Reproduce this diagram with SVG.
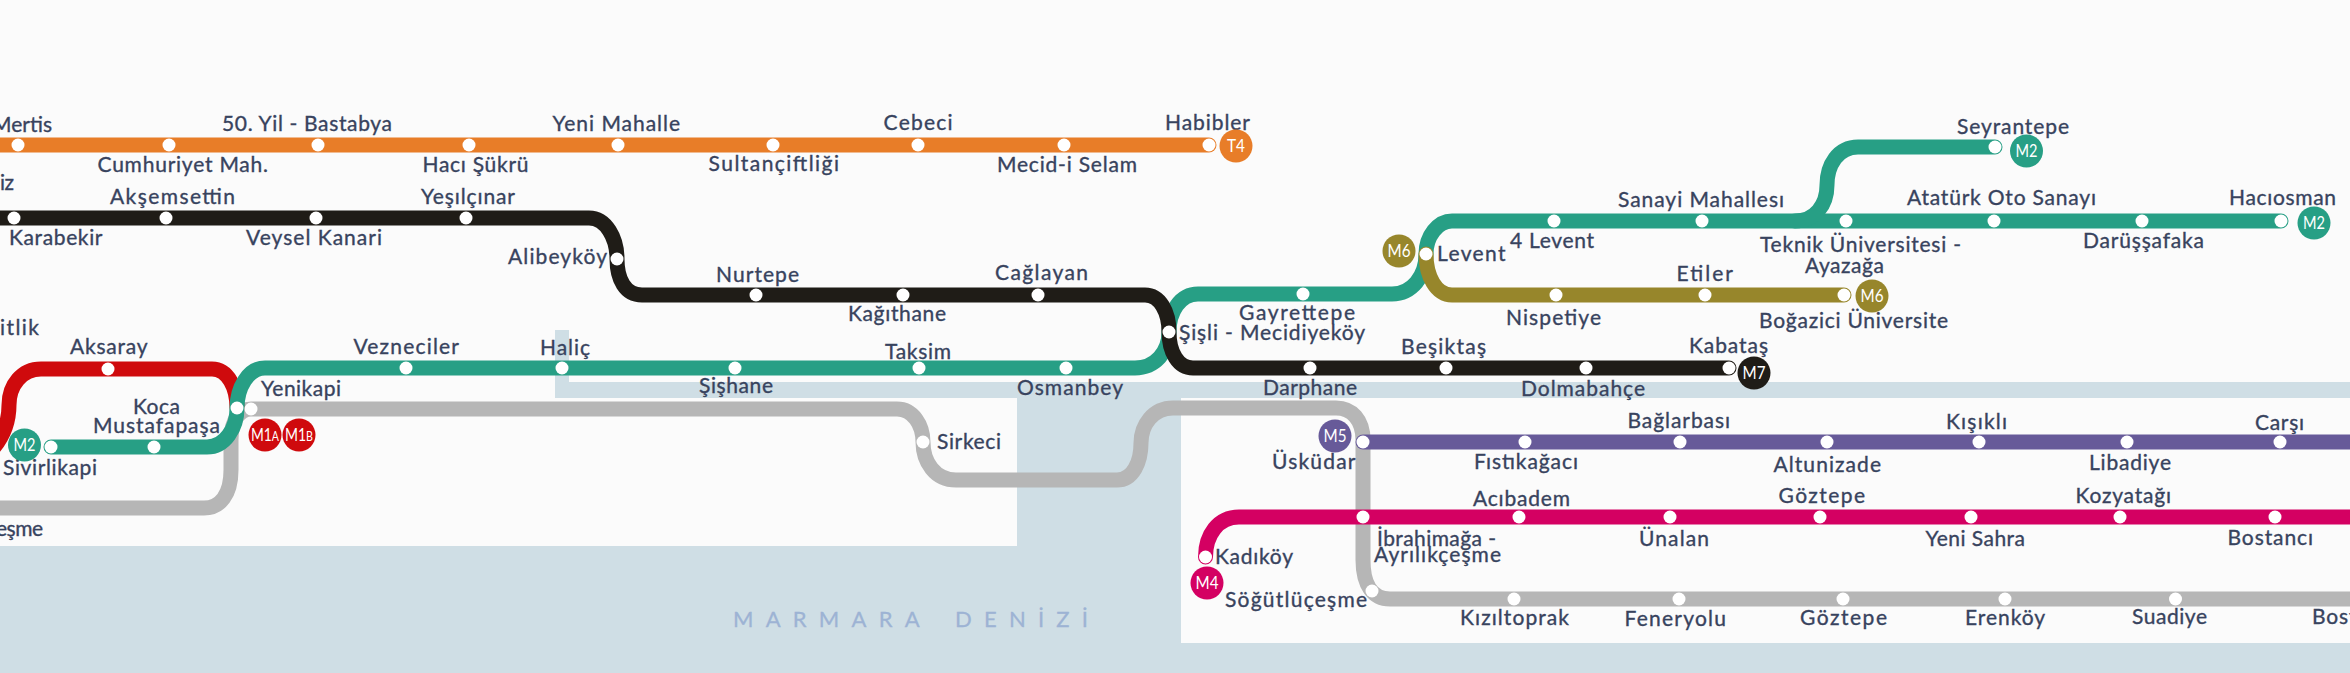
<svg xmlns="http://www.w3.org/2000/svg" width="2350" height="673" viewBox="0 0 2350 673">
<style>
text{font-family:Lato,"Open Sans","Liberation Sans",sans-serif}
.t{font-size:21px;fill:#38435e;stroke:#38435e;stroke-width:.35}
.l{fill:none;stroke-width:15;stroke-linecap:round}
.s{fill:#fff}
.b{font-size:17px;fill:#fff;text-anchor:middle}
.sm{font-size:13px}
.sea{font-size:22px;fill:#9db3d4;stroke:#9db3d4;stroke-width:.3}
</style>
<rect id="page" width="2350" height="673" fill="#fbfbfb"/>
<path id="water" d="M555 330H569V382H2350V398H1181V643H2350V673H0V546H1017V398H555Z" fill="#cfdee5"/>
<text id="sea" class="sea" x="733" y="627" textLength="355" lengthAdjust="spacing" word-spacing="6">MARMARA DENİZİ</text>
<g id="connectors">
<path class="l" stroke="#b6b6b6" d="M-10 508H204C220 508 231 495 231 470V440C231 420 240 409 251 409H897C913 409 923 425 923 442C923 462 935 480 956 480H1117C1133 480 1141 462 1141 443C1141 425 1153 408 1173 408H1336C1352 408 1363 420 1363 440V560C1363 585 1373 599 1390 599H2360"/>
<path class="l" stroke="#cf0a0d" d="M-10 452C3 438 9 422 9 405C9 385 22 369 41 369H212C228 369 237 388 237 408"/>
<path class="l" stroke="#279f85" d="M51 447H207C225 447 237 428 237 408C237 388 248 368 265 368H1135C1155 368 1169 352 1169 332C1169 312 1180 294 1198 294H1392C1412 294 1426 276 1426 254C1426 236 1438 221 1452 221H2281"/>
<path class="l" stroke="#279f85" d="M1795 221C1815 221 1827 205 1827 185C1827 165 1838 147 1858 147H1995"/>
<path class="l" stroke="#97862b" d="M1426 254C1426 276 1436 295 1452 295H1844"/>
<path class="l" stroke="#e87d28" d="M-10 145H1209"/>
<path class="l" stroke="#1f1c17" d="M-10 218H589C606 218 617 238 617 259C617 279 625 295 642 295H1145C1160 295 1169 312 1169 332C1169 352 1178 368 1193 368H1729"/>
<path class="l" stroke="#675a99" d="M1363 442H2360"/>
<path class="l" stroke="#d40062" d="M1205.5 557C1205.5 535 1218 517 1239 517H2360"/>
</g>
<g id="t4-line">
<g id="mertis"><circle class="s" cx="18" cy="145" r="6.5"/><text class="t" x="-8" y="132" textLength="60">Mertis</text></g>
<g id="cumhuriyet"><circle class="s" cx="169" cy="145" r="6.5"/><text class="t" x="97.500" y="172" textLength="170.500">Cumhuriyet Mah.</text></g>
<g id="bastabya"><circle class="s" cx="318" cy="145" r="6.5"/><text class="t" x="222" y="131" textLength="170">50. Yil - Bastabya</text></g>
<g id="haci-sukru"><circle class="s" cx="469" cy="145" r="6.5"/><text class="t" x="422.500" y="172" textLength="106">Hacı Şükrü</text></g>
<g id="yeni-mahalle"><circle class="s" cx="618" cy="145" r="6.5"/><text class="t" x="552.500" y="131" textLength="127.500">Yeni Mahalle</text></g>
<g id="sultanciftligi"><circle class="s" cx="773" cy="145" r="6.5"/><text class="t" x="708.600" y="171" textLength="130.400">Sultançiftliği</text></g>
<g id="cebeci"><circle class="s" cx="918" cy="145" r="6.5"/><text class="t" x="883.600" y="130" textLength="68.900">Cebeci</text></g>
<g id="mecid"><circle class="s" cx="1064" cy="145" r="6.5"/><text class="t" x="997" y="172" textLength="140">Mecid-i Selam</text></g>
<g id="habibler"><circle class="s" cx="1209" cy="145" r="6.5"/><text class="t" x="1165" y="130" textLength="85">Habibler</text></g>
</g>
<g id="m7-line">
<g id="iz"><text class="t" x="0" y="190" textLength="14">iz</text></g>
<g id="karabekir"><circle class="s" cx="14" cy="218" r="6.5"/><text class="t" x="9" y="245" textLength="93.500">Karabekir</text></g>
<g id="aksemsettin"><circle class="s" cx="166" cy="218" r="6.5"/><text class="t" x="110" y="204" textLength="125">Akşemsettin</text></g>
<g id="veysel"><circle class="s" cx="316" cy="218" r="6.5"/><text class="t" x="246" y="245" textLength="136">Veysel Kanari</text></g>
<g id="yesilcinar"><circle class="s" cx="466" cy="218" r="6.5"/><text class="t" x="421" y="204" textLength="94">Yeşılçınar</text></g>
<g id="alibeykoy"><circle class="s" cx="617" cy="259" r="6.5"/><text class="t" x="508" y="264" textLength="99">Alibeyköy</text></g>
<g id="nurtepe"><circle class="s" cx="756" cy="295" r="6.5"/><text class="t" x="716" y="282" textLength="83">Nurtepe</text></g>
<g id="kagithane"><circle class="s" cx="903" cy="295" r="6.5"/><text class="t" x="848" y="321" textLength="98">Kağıthane</text></g>
<g id="caglayan"><circle class="s" cx="1038" cy="295" r="6.5"/><text class="t" x="995" y="280" textLength="93">Cağlayan</text></g>
<g id="darphane"><circle class="s" cx="1310" cy="368" r="6.5"/><text class="t" x="1263" y="395" textLength="94">Darphane</text></g>
<g id="besiktas"><circle class="s" cx="1446" cy="368" r="6.5"/><text class="t" x="1401" y="354" textLength="85">Beşiktaş</text></g>
<g id="dolmabahce"><circle class="s" cx="1586" cy="368" r="6.5"/><text class="t" x="1521" y="396" textLength="124">Dolmabahçe</text></g>
<g id="kabatas"><circle class="s" cx="1729" cy="368" r="6.5"/><text class="t" x="1689" y="353" textLength="79">Kabataş</text></g>
</g>
<g id="m1-m2-line">
<g id="itlik"><text class="t" x="0" y="335" textLength="39">itlik</text></g>
<g id="aksaray"><circle class="s" cx="108" cy="369" r="6.5"/><text class="t" x="70" y="354" textLength="77.500">Aksaray</text></g>
<g id="yenikapi-m1"><circle class="s" cx="237" cy="408" r="6.5"/></g>
<g id="yenikapi"><circle class="s" cx="251" cy="409" r="6.5"/><text class="t" x="261" y="396" textLength="80">Yenikapi</text></g>
<g id="koca-mustafapasa"><circle class="s" cx="154" cy="447" r="6.5"/><text class="t" x="133" y="414" textLength="47">Koca</text><text class="t" x="93" y="433" textLength="127">Mustafapaşa</text></g>
<g id="sivirlikapi"><circle class="s" cx="51" cy="447" r="6.5"/><text class="t" x="3" y="475" textLength="94">Sivirlikapi</text></g>
<g id="esme"><text class="t" x="-4" y="536" textLength="47">eşme</text></g>
<g id="vezneciler"><circle class="s" cx="406" cy="368" r="6.5"/><text class="t" x="353.500" y="354" textLength="105.500">Vezneciler</text></g>
<g id="halic"><circle class="s" cx="562" cy="368" r="6.5"/><text class="t" x="540" y="355" textLength="50">Haliç</text></g>
<g id="sishane"><circle class="s" cx="735" cy="368" r="6.5"/><text class="t" x="699" y="393" textLength="74">Şişhane</text></g>
<g id="taksim"><circle class="s" cx="919" cy="368" r="6.5"/><text class="t" x="885" y="359" textLength="66">Taksim</text></g>
<g id="osmanbey"><circle class="s" cx="1066" cy="368" r="6.5"/><text class="t" x="1017" y="395" textLength="106">Osmanbey</text></g>
<g id="sisli"><circle class="s" cx="1169" cy="332" r="6.5"/><text class="t" x="1179" y="340" textLength="186">Şişli - Mecidiyeköy</text></g>
<g id="gayrettepe"><circle class="s" cx="1303" cy="294" r="6.5"/><text class="t" x="1239" y="320" textLength="116">Gayrettepe</text></g>
<g id="levent"><circle class="s" cx="1426" cy="254" r="6.5"/><text class="t" x="1437" y="261" textLength="68.500">Levent</text></g>
<g id="dort-levent"><circle class="s" cx="1554" cy="221" r="6.5"/><text class="t" x="1510" y="248" textLength="84">4 Levent</text></g>
<g id="sanayi"><circle class="s" cx="1702" cy="221" r="6.5"/><text class="t" x="1618" y="207" textLength="166">Sanayi Mahallesı</text></g>
<g id="teknik"><circle class="s" cx="1846" cy="221" r="6.5"/><text class="t" x="1760" y="252" textLength="201">Teknik Üniversitesi -</text><text class="t" x="1805" y="273" textLength="79">Ayazağa</text></g>
<g id="ataturk"><circle class="s" cx="1994" cy="221" r="6.5"/><text class="t" x="1907" y="205" textLength="189">Atatürk Oto Sanayı</text></g>
<g id="darussafaka"><circle class="s" cx="2142" cy="221" r="6.5"/><text class="t" x="2083" y="248" textLength="121">Darüşşafaka</text></g>
<g id="haciosman"><circle class="s" cx="2281" cy="221" r="6.5"/><text class="t" x="2229" y="205" textLength="107">Hacıosman</text></g>
<g id="seyrantepe"><circle class="s" cx="1995" cy="147" r="6.5"/><text class="t" x="1957" y="134" textLength="112">Seyrantepe</text></g>
</g>
<g id="m6-line">
<g id="nispetiye"><circle class="s" cx="1556" cy="295" r="6.5"/><text class="t" x="1506" y="325" textLength="95">Nispetiye</text></g>
<g id="etiler"><circle class="s" cx="1705" cy="295" r="6.5"/><text class="t" x="1676.500" y="281" textLength="56.500">Etiler</text></g>
<g id="bogazici"><circle class="s" cx="1844" cy="295" r="6.5"/><text class="t" x="1759" y="328" textLength="189">Boğazici Üniversite</text></g>
</g>
<g id="marmaray-line">
<g id="sirkeci"><circle class="s" cx="923" cy="442" r="6.5"/><text class="t" x="937" y="449" textLength="64">Sirkeci</text></g>
<g id="sogutlucesme"><circle class="s" cx="1372" cy="591" r="6.5"/><text class="t" x="1225" y="607" textLength="142">Söğütlüçeşme</text></g>
<g id="kiziltoprak"><circle class="s" cx="1514" cy="599" r="6.5"/><text class="t" x="1460" y="625" textLength="109">Kızıltoprak</text></g>
<g id="feneryolu"><circle class="s" cx="1679" cy="599" r="6.5"/><text class="t" x="1624.500" y="626" textLength="101.500">Feneryolu</text></g>
<g id="goztepe-m"><circle class="s" cx="1843" cy="599" r="6.5"/><text class="t" x="1800" y="625" textLength="87">Göztepe</text></g>
<g id="erenkoy"><circle class="s" cx="2005" cy="599" r="6.5"/><text class="t" x="1965" y="625" textLength="80">Erenköy</text></g>
<g id="suadiye"><circle class="s" cx="2175.500" cy="599" r="6.5"/><text class="t" x="2132" y="624" textLength="75">Suadiye</text></g>
<g id="bostanci-m"><text class="t" x="2312" y="624" textLength="85">Bostancı</text></g>
</g>
<g id="m5-line">
<g id="uskudar"><circle class="s" cx="1363" cy="442" r="6.5"/><text class="t" x="1272" y="469" textLength="83.500">Üsküdar</text></g>
<g id="fistikagaci"><circle class="s" cx="1525" cy="442" r="6.5"/><text class="t" x="1474" y="469" textLength="104">Fıstıkağacı</text></g>
<g id="baglarbasi"><circle class="s" cx="1680" cy="442" r="6.5"/><text class="t" x="1627.500" y="428" textLength="102.500">Bağlarbası</text></g>
<g id="altunizade"><circle class="s" cx="1827" cy="442" r="6.5"/><text class="t" x="1773.500" y="472" textLength="107.500">Altunizade</text></g>
<g id="kisikli"><circle class="s" cx="1979" cy="442" r="6.5"/><text class="t" x="1946" y="429" textLength="61">Kışıklı</text></g>
<g id="libadiye"><circle class="s" cx="2127" cy="442" r="6.5"/><text class="t" x="2089" y="470" textLength="82">Libadiye</text></g>
<g id="carsi"><circle class="s" cx="2280" cy="442" r="6.5"/><text class="t" x="2255" y="430" textLength="49">Carşı</text></g>
</g>
<g id="m4-line">
<g id="kadikoy"><circle class="s" cx="1205.500" cy="557" r="6.5"/><text class="t" x="1215" y="564" textLength="78">Kadıköy</text></g>
<g id="ibrahimaga"><circle class="s" cx="1363" cy="517" r="6.5"/><text class="t" x="1377" y="546" textLength="119">İbrahimağa -</text><text class="t" x="1374" y="562" textLength="127">Ayrılıkçeşme</text></g>
<g id="acibadem"><circle class="s" cx="1519" cy="517" r="6.5"/><text class="t" x="1473" y="506" textLength="97">Acıbadem</text></g>
<g id="unalan"><circle class="s" cx="1670" cy="517" r="6.5"/><text class="t" x="1639" y="546" textLength="70">Ünalan</text></g>
<g id="goztepe"><circle class="s" cx="1820" cy="517" r="6.5"/><text class="t" x="1778.500" y="503" textLength="86.500">Göztepe</text></g>
<g id="yeni-sahra"><circle class="s" cx="1971" cy="517" r="6.5"/><text class="t" x="1925.500" y="546" textLength="99.500">Yeni Sahra</text></g>
<g id="kozyatagi"><circle class="s" cx="2120" cy="517" r="6.5"/><text class="t" x="2075.500" y="503" textLength="95.500">Kozyatağı</text></g>
<g id="bostanci"><circle class="s" cx="2275" cy="517" r="6.5"/><text class="t" x="2227.500" y="545" textLength="85.500">Bostancı</text></g>
</g>
<g id="badges">
<g id="badge-t4"><circle cx="1236" cy="146" r="16.500" fill="#e87d28"/><text class="b" x="1236" y="152" textLength="18" lengthAdjust="spacingAndGlyphs">T4</text></g>
<g id="badge-m7"><circle cx="1754" cy="373" r="16.500" fill="#1f1c17"/><text class="b" x="1754" y="379" textLength="23" lengthAdjust="spacingAndGlyphs">M7</text></g>
<g id="badge-m1a"><circle cx="265" cy="435" r="16.500" fill="#cf0a0d"/><text class="b" x="265" y="441" textLength="28" lengthAdjust="spacingAndGlyphs">M1<tspan class="sm">A</tspan></text></g>
<g id="badge-m1b"><circle cx="299" cy="435" r="16.500" fill="#cf0a0d"/><text class="b" x="299" y="441" textLength="28" lengthAdjust="spacingAndGlyphs">M1<tspan class="sm">B</tspan></text></g>
<g id="badge-m2a"><circle cx="24.500" cy="445" r="16.500" fill="#279f85"/><text class="b" x="24.500" y="451" textLength="22" lengthAdjust="spacingAndGlyphs">M2</text></g>
<g id="badge-m2b"><circle cx="2026.500" cy="151" r="16.500" fill="#279f85"/><text class="b" x="2026.500" y="157" textLength="22" lengthAdjust="spacingAndGlyphs">M2</text></g>
<g id="badge-m2c"><circle cx="2314" cy="223" r="16.500" fill="#279f85"/><text class="b" x="2314" y="229" textLength="22" lengthAdjust="spacingAndGlyphs">M2</text></g>
<g id="badge-m6a"><circle cx="1399" cy="251" r="16.500" fill="#97862b"/><text class="b" x="1399" y="257" textLength="23" lengthAdjust="spacingAndGlyphs">M6</text></g>
<g id="badge-m6b"><circle cx="1872" cy="296" r="16.500" fill="#97862b"/><text class="b" x="1872" y="302" textLength="23" lengthAdjust="spacingAndGlyphs">M6</text></g>
<g id="badge-m5"><circle cx="1335" cy="436" r="16.500" fill="#675a99"/><text class="b" x="1335" y="442" textLength="23" lengthAdjust="spacingAndGlyphs">M5</text></g>
<g id="badge-m4"><circle cx="1207" cy="583" r="16.500" fill="#d40062"/><text class="b" x="1207" y="589" textLength="23" lengthAdjust="spacingAndGlyphs">M4</text></g>
</g>
</svg>
